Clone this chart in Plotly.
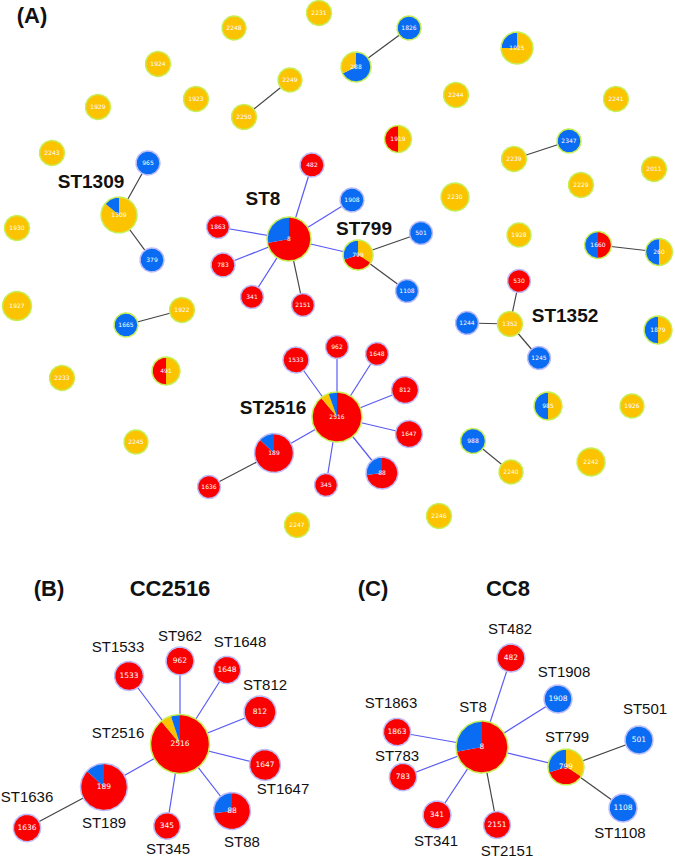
import numpy as np
import plotly.graph_objects as go

# ---------------- data ----------------
# Panel A: minimum spanning tree of all STs
A_ids = ["2231", "2248", "1924", "1929", "1923", "2249", "2250", "2243", "965", "1309",
         "482", "1826", "288", "1925", "2244", "2241", "1919", "2347", "2239", "2011",
         "2229", "2230", "1908", "1930", "379", "1863", "8", "783", "341", "2151",
         "1927", "1922", "1665", "491", "2233", "1533", "962", "1648", "812", "2516",
         "1647", "189", "88", "1636", "345", "799", "501", "1108", "1928", "1660",
         "260", "530", "1244", "1352", "1245", "1879", "985", "1926", "988", "2240",
         "2242", "2246", "2245", "2247"]
A_x = [319, 234, 158, 98, 196, 290, 244, 52, 148, 119,
       312, 409, 356, 517, 456, 616, 398, 569, 514, 654,
       581, 455, 352, 17, 152, 218, 289, 223, 252, 303,
       17, 182, 126, 166, 62, 296, 337, 377, 405, 337,
       409, 274, 382, 209, 326, 358, 421, 407, 519, 598,
       659, 519, 467, 510, 539, 658, 548, 632, 473, 511,
       591, 439, 136, 297]
A_y = [13, 28, 64, 107, 99, 80, 117, 153, 163, 215,
       165, 28, 67, 48, 95, 99, 139, 141, 159, 169,
       185, 197, 200, 228, 260, 227, 239, 265, 297, 305,
       306, 310, 325, 371, 378, 360, 347, 354, 390, 417,
       434, 453, 473, 487, 485, 255, 233, 291, 235, 245,
       252, 281, 323, 324, 358, 330, 406, 406, 441, 472,
       462, 516, 442, 525]
A_r = [12.5, 12, 12.5, 12.5, 12.5, 12, 12.5, 12.5, 12, 18,
       12, 12, 15, 16, 12.5, 12.5, 13.5, 12, 12.5, 12.5,
       12.5, 14, 12, 12.5, 12, 11.5, 22, 12, 11.5, 11.5,
       14.5, 12.5, 12, 14, 12.5, 13, 11.5, 11.5, 13.5, 25,
       13.5, 19.5, 16, 11.5, 11.5, 15, 11.5, 11.5, 12, 13.5,
       13.5, 11.5, 11.5, 12.5, 11.5, 14, 14, 12, 12.5, 12,
       14, 12.5, 12, 12.5]
# slice composition, clockwise from 12 o'clock (R = red, B = blue, Y = yellow)
A_slices = [[("Y", 1)], [("Y", 1)], [("Y", 1)], [("Y", 1)], [("Y", 1)], [("Y", 1)], [("Y", 1)], [("Y", 1)], [("B", 1)], [("Y", .86), ("B", .14)],
            [("R", 1)], [("B", 1)], [("B", .68), ("Y", .32)], [("Y", .75), ("B", .25)], [("Y", 1)], [("Y", 1)], [("Y", .5), ("R", .5)], [("B", 1)], [("Y", 1)], [("Y", 1)],
            [("Y", 1)], [("Y", 1)], [("B", 1)], [("Y", 1)], [("B", 1)], [("R", 1)], [("R", .72), ("B", .28)], [("R", 1)], [("R", 1)], [("R", 1)],
            [("Y", 1)], [("Y", 1)], [("B", 1)], [("Y", .5), ("R", .5)], [("Y", 1)], [("R", 1)], [("R", 1)], [("R", 1)], [("R", 1)], [("R", .89), ("Y", .055), ("B", .055)],
            [("R", 1)], [("R", .87), ("B", .13)], [("R", .73), ("B", .27)], [("R", 1)], [("R", 1)], [("Y", .34), ("R", .36), ("B", .30)], [("B", 1)], [("B", 1)], [("Y", 1)], [("R", .5), ("B", .5)],
            [("Y", .5), ("B", .5)], [("R", 1)], [("B", 1)], [("Y", 1)], [("B", 1)], [("Y", .5), ("B", .5)], [("Y", .5), ("B", .5)], [("Y", 1)], [("B", 1)], [("Y", 1)],
            [("Y", 1)], [("Y", 1)], [("Y", 1)], [("Y", 1)]]
A_ring = ["g", "g", "g", "g", "g", "g", "g", "g", "p", "g",
          "p", "g", "g", "g", "g", "g", "g", "g", "g", "g",
          "g", "g", "p", "g", "p", "p", "g", "p", "p", "p",
          "g", "g", "g", "g", "g", "p", "p", "p", "p", "g",
          "p", "p", "p", "p", "p", "g", "p", "p", "g", "g",
          "g", "p", "p", "g", "p", "g", "g", "g", "g", "g",
          "g", "g", "g", "g"]
A_edges = [("2249", "2250", "k"), ("1826", "288", "k"), ("965", "1309", "k"), ("1309", "379", "k"),
           ("2239", "2347", "k"), ("8", "482", "b"), ("8", "1908", "b"), ("8", "1863", "b"),
           ("8", "783", "b"), ("8", "341", "b"), ("8", "2151", "k"), ("8", "799", "b"),
           ("799", "501", "k"), ("799", "1108", "k"), ("1665", "1922", "k"), ("1660", "260", "k"),
           ("1352", "530", "k"), ("1352", "1244", "k"), ("1352", "1245", "k"),
           ("2516", "1533", "b"), ("2516", "962", "b"), ("2516", "1648", "b"), ("2516", "812", "b"),
           ("2516", "1647", "b"), ("2516", "88", "b"), ("2516", "345", "b"), ("2516", "189", "b"),
           ("189", "1636", "k"), ("988", "2240", "k")]
A_labels = ["ST1309", "ST8", "ST799", "ST1352", "ST2516"]
A_label_x = [91, 263, 364, 565, 273]
A_label_y = [183, 200, 230, 317, 409]

# Panel B: CC2516
B_ids = ["2516", "1533", "962", "1648", "812", "1647", "88", "345", "189", "1636"]
B_x = [180, 129, 180, 227, 260, 265, 232, 167, 104, 27]
B_y = [744, 676, 661, 670, 712, 765, 811, 826, 787, 828]
B_r = [29.5, 14.5, 14, 13.7, 16, 15.5, 18.5, 13.3, 23.5, 13.7]
B_slices = [[("R", .89), ("Y", .06), ("B", .05)], [("R", 1)], [("R", 1)], [("R", 1)], [("R", 1)],
            [("R", 1)], [("R", .73), ("B", .27)], [("R", 1)], [("R", .87), ("B", .13)], [("R", 1)]]
B_ring = ["g", "p", "p", "p", "p", "p", "p", "p", "p", "p"]
B_edges = [("2516", "1533", "b"), ("2516", "962", "b"), ("2516", "1648", "b"), ("2516", "812", "b"),
           ("2516", "1647", "b"), ("2516", "88", "b"), ("2516", "345", "b"), ("2516", "189", "b"),
           ("189", "1636", "k")]
B_labels = ["ST1533", "ST962", "ST1648", "ST812", "ST2516", "ST1647", "ST1636", "ST189", "ST345", "ST88"]
B_label_x = [118, 180, 240, 265, 118, 283, 27, 104, 168, 242]
B_label_y = [648, 637, 643, 686, 734, 790, 798, 824, 850, 843]

# Panel C: CC8
C_ids = ["482", "1908", "8", "1863", "783", "341", "2151", "799", "501", "1108"]
C_x = [511, 558, 482, 397, 403, 437, 497, 566, 639, 623]
C_y = [658, 699, 747, 732, 777, 815, 825, 767, 740, 808]
C_r = [14, 14, 26, 13.7, 13.7, 14, 13.5, 18, 14, 14]
C_slices = [[("R", 1)], [("B", 1)], [("R", .72), ("B", .28)], [("R", 1)], [("R", 1)],
            [("R", 1)], [("R", 1)], [("Y", .34), ("R", .36), ("B", .30)], [("B", 1)], [("B", 1)]]
C_ring = ["p", "p", "g", "p", "p", "p", "p", "g", "p", "p"]
C_edges = [("8", "482", "b"), ("8", "1908", "b"), ("8", "1863", "b"), ("8", "783", "b"),
           ("8", "341", "b"), ("8", "2151", "k"), ("8", "799", "b"), ("799", "501", "k"),
           ("799", "1108", "k")]
C_labels = ["ST482", "ST1908", "ST1863", "ST8", "ST501", "ST799", "ST783", "ST341", "ST2151", "ST1108"]
C_label_x = [510, 564, 391, 473, 645, 567, 397, 436, 507, 620]
C_label_y = [630, 673, 704, 708, 710, 738, 757, 842, 852, 834]

panel_tags = ["(A)", "(B)", "CC2516", "(C)", "CC8"]
panel_tag_x = [32, 49, 170, 373, 508]
panel_tag_y = [17, 590, 590, 590, 590]

# ---------------- style ----------------
FILL = {"R": "#fa0000", "B": "#0a6cf2", "Y": "#fcc300"}
RING = {"g": "#c6ee55", "p": "#bcbcfa"}
EDGE = {"b": "#5a5af5", "k": "#444444"}

fig = go.Figure()


def add_edges(ids, xs, ys, edges):
    pos = {i: (x, y) for i, x, y in zip(ids, xs, ys)}
    for kind in ("b", "k"):
        ex, ey = [], []
        for a, b, t in edges:
            if t != kind:
                continue
            ex += [pos[a][0], pos[b][0], None]
            ey += [pos[a][1], pos[b][1], None]
        fig.add_trace(go.Scatter(x=ex, y=ey, mode="lines", hoverinfo="skip",
                                 line=dict(color=EDGE[kind], width=1.2), showlegend=False))


def add_nodes(ids, xs, ys, rs, slices, rings, fsize):
    for x, y, r, sl, rg in zip(xs, ys, rs, slices, rings):
        cum = 0.0
        for key, frac in sl:
            a0 = 90 - 360 * cum
            a1 = 90 - 360 * (cum + frac)
            n = max(4, int(abs(a1 - a0) / 3))
            th = np.radians(np.linspace(a0, a1, n))
            px = list(x + r * np.cos(th))
            py = list(y - r * np.sin(th))
            if frac < 0.999:
                px = [x] + px + [x]
                py = [y] + py + [y]
            fig.add_trace(go.Scatter(x=px, y=py, mode="lines", fill="toself",
                                     fillcolor=FILL[key], line=dict(width=0, color=FILL[key]),
                                     hoverinfo="skip", showlegend=False))
            cum += frac
        th = np.radians(np.linspace(0, 360, 121))
        fig.add_trace(go.Scatter(x=x + r * np.cos(th), y=y - r * np.sin(th), mode="lines",
                                 line=dict(color=RING[rg], width=1.5), hoverinfo="skip",
                                 showlegend=False))
    fig.add_trace(go.Scatter(x=xs, y=ys, mode="text", text=ids, hoverinfo="skip",
                             textfont=dict(family="DejaVu Sans", size=fsize, color="white"),
                             showlegend=False))


add_edges(A_ids, A_x, A_y, A_edges)
add_nodes(A_ids, A_x, A_y, A_r, A_slices, A_ring, 6)
add_edges(B_ids, B_x, B_y, B_edges)
add_nodes(B_ids, B_x, B_y, B_r, B_slices, B_ring, 7.5)
add_edges(C_ids, C_x, C_y, C_edges)
add_nodes(C_ids, C_x, C_y, C_r, C_slices, C_ring, 7.5)

# bold labels of panel A
fig.add_trace(go.Scatter(x=A_label_x, y=A_label_y, mode="text", text=A_labels, hoverinfo="skip",
                         textfont=dict(family="Liberation Sans", size=19, color="#111111",
                                       weight="bold"), showlegend=False))
# regular labels of panels B and C
fig.add_trace(go.Scatter(x=B_label_x + C_label_x, y=B_label_y + C_label_y, mode="text",
                         text=B_labels + C_labels, hoverinfo="skip",
                         textfont=dict(family="Liberation Sans", size=15, color="#111111"),
                         showlegend=False))
# panel tags
fig.add_trace(go.Scatter(x=panel_tag_x, y=panel_tag_y, mode="text", text=panel_tags, hoverinfo="skip",
                         textfont=dict(family="Liberation Sans", size=22, color="#111111",
                                       weight="bold"), showlegend=False))

fig.update_layout(width=675, height=860, margin=dict(l=0, r=0, t=0, b=0),
                  plot_bgcolor="white", paper_bgcolor="white", showlegend=False)
fig.update_xaxes(range=[0, 675], visible=False, fixedrange=True)
fig.update_yaxes(range=[860, 0], visible=False, fixedrange=True)

fig.write_html("out.html", config={"displayModeBar": False},
               post_script="document.body.style.margin='0';document.body.style.overflow='hidden';")
